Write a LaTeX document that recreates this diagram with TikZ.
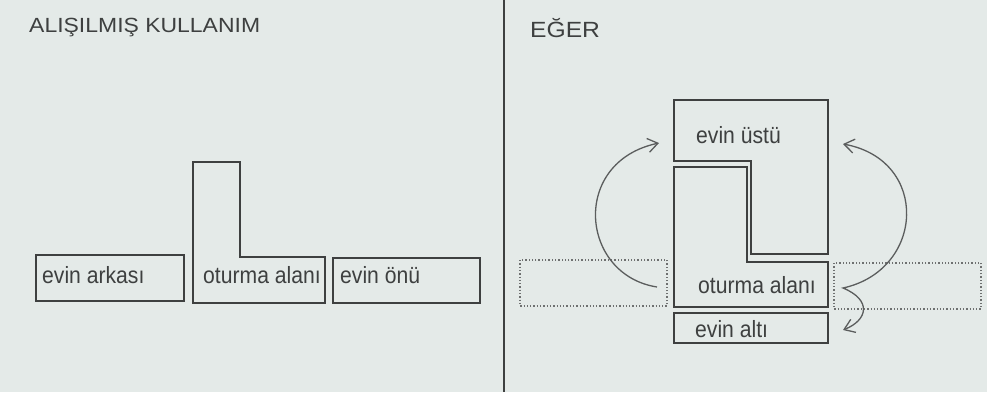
\documentclass[tikz,border=0pt]{standalone}
\usepackage{fontspec}
\setmainfont{Liberation Sans}
\newfontfamily\headfont[FakeStretch=1.12]{Liberation Sans}
\newfontfamily\roomfont[FakeStretch=0.9]{Liberation Sans}
\usetikzlibrary{positioning, arrows.meta}
\definecolor{paper}{RGB}{228,234,232}
\definecolor{ink}{RGB}{62,64,64}

\begin{document}
\begin{tikzpicture}[x=1pt, y=-1pt,
    wall/.style={ink, line width=1.8pt, line join=miter},
    ghost/.style={ink!75, line width=1.3pt, dotted},
    divider/.style={ink, line width=1.6pt},
    turn/.style={ink!85, line width=1.3pt},
    barb/.tip={Straight Barb[length=10pt, width=14pt]},
    roomlabel/.style={text=ink, anchor=base west, inner sep=0pt, font=\roomfont\fontsize{23.5}{27}\selectfont},
    headlabel/.style={text=ink, anchor=base west, inner sep=0pt, font=\headfont\fontsize{20.5}{24}\selectfont}]
    \fill[paper] (0,0) rectangle (987,392);
    \useasboundingbox (0,0) rectangle (987,392);

    \coordinate (T0) at (504,0);
    \coordinate (T1) at (504,392);
    \draw[divider] (T0) -- (T1);

    \node[headlabel] (usual) at (29,32) {ALIŞILMIŞ KULLANIM};
    \node[headlabel, font=\headfont\fontsize{22}{26}\selectfont] (whatif) at (530,37) {EĞER};

    % alisilmis kullanim
    \coordinate (B1) at (36,255);
    \coordinate (B2) at (184,301);
    \draw[wall] (B1) rectangle (B2);
    \coordinate (L1) at (193,162);
    \coordinate (L2) at (240,162);
    \coordinate (L3) at (240,257);
    \coordinate (L4) at (325,257);
    \coordinate (L5) at (325,303);
    \coordinate (L6) at (193,303);
    \draw[wall] (L1) -- (L2) -- (L3) -- (L4) -- (L5) -- (L6) -- cycle;
    \coordinate (F1) at (333,258);
    \coordinate (F2) at (480,303);
    \draw[wall] (F1) rectangle (F2);

    \node[roomlabel] (back) at (42,283) {evin arkası};
    \node[roomlabel] (living) at (203,283) {oturma alanı};
    \node[roomlabel] (front) at (340,283) {evin önü};

    % eger
    \coordinate (U1) at (674,100);
    \coordinate (U2) at (828,100);
    \coordinate (U3) at (828,254);
    \coordinate (U4) at (751,254);
    \coordinate (U5) at (751,161);
    \coordinate (U6) at (674,161);
    \draw[wall] (U1) -- (U2) -- (U3) -- (U4) -- (U5) -- (U6) -- cycle;
    \coordinate (O1) at (674,167);
    \coordinate (O2) at (747,167);
    \coordinate (O3) at (747,262);
    \coordinate (O4) at (828,262);
    \coordinate (O5) at (828,307);
    \coordinate (O6) at (674,307);
    \draw[wall] (O1) -- (O2) -- (O3) -- (O4) -- (O5) -- (O6) -- cycle;
    \coordinate (D1) at (674,313);
    \coordinate (D2) at (828,343);
    \draw[wall] (D1) rectangle (D2);

    \coordinate (GB1) at (520,260);
    \coordinate (GB2) at (667,306);
    \draw[ghost] (GB1) rectangle (GB2);
    \coordinate (GF1) at (834,263);
    \coordinate (GF2) at (981,309);
    \draw[ghost] (GF1) rectangle (GF2);

    \node[roomlabel] (top) at (696,143) {evin üstü};
    \node[roomlabel] (living2) at (698,293) {oturma alanı};
    \node[roomlabel] (under) at (695,337) {evin altı};

    \coordinate (A0) at (657,287);
    \coordinate (A1) at (659,143);
    \draw[turn, -barb] (A0) .. controls (580,275) and (570,162) .. (A1);
    \coordinate (R0) at (843,144);
    \coordinate (R1) at (843,288);
    \coordinate (R2) at (843,330);
    \draw[turn, barb-barb] (R0) .. controls (930,160) and (925,270) .. (R1)
        .. controls (872,300) and (868,320) .. (R2);
\end{tikzpicture}
\end{document}
